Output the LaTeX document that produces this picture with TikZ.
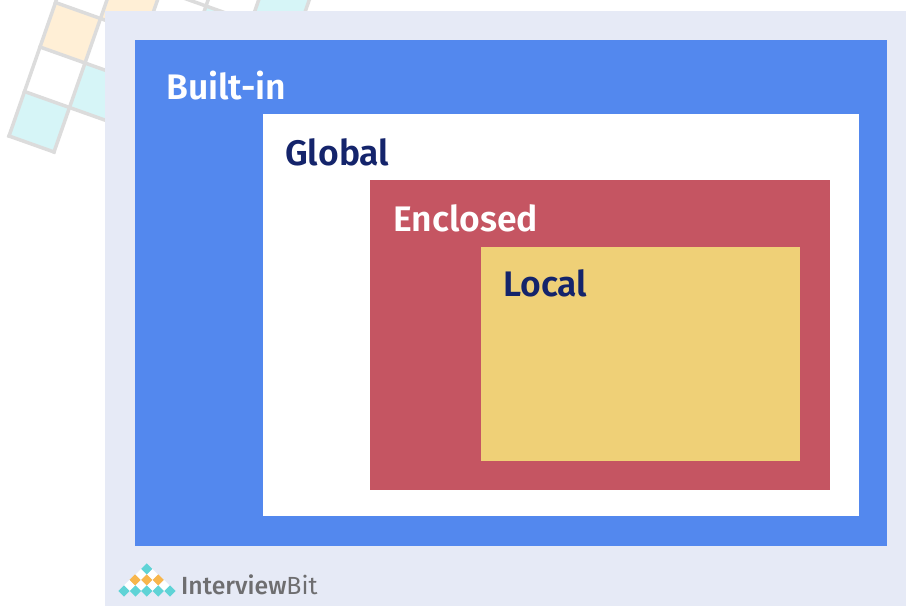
\documentclass[tikz,border=0pt]{standalone}
\usepackage{fontspec}
\setmainfont{Fira Sans}[BoldFont={Fira Sans SemiBold}]
\newfontfamily\logomed{Fira Sans Medium}
\definecolor{bgpale}{HTML}{E6EAF6}
\definecolor{blueb}{HTML}{5388EE}
\definecolor{redb}{HTML}{C55562}
\definecolor{yellowb}{HTML}{EFD077}
\definecolor{navyt}{HTML}{14246B}
\definecolor{gridg}{HTML}{DCDCDC}
\definecolor{pcream}{HTML}{FFEFD6}
\definecolor{pteal}{HTML}{D6F5F7}
\definecolor{lteal}{HTML}{5FD3D6}
\definecolor{lorange}{HTML}{F8B64C}
\definecolor{lgray}{HTML}{6E6E70}
\tikzset{
 x=1pt,y=-1pt,
 lab/.style={anchor=base west,inner sep=0pt,font=\fontsize{35.5}{37}\selectfont\bfseries},
 gridline/.style={draw=gridg,line width=3.5pt,line cap=rect},
}
\newcommand{\gp}[2]{({9+45*(#1)+15.5*(#2)},{136+16*(#1)-44.5*(#2)})}
\newcommand{\gcell}[3]{\fill[#3] \gp{#1}{#2} -- \gp{#1+1}{#2} -- \gp{#1+1}{#2+1} -- \gp{#1}{#2+1} -- cycle;}
\newcommand{\ld}[3]{\fill[#3] ({#1-5.6},#2) -- (#1,{#2-5.6}) -- ({#1+5.6},#2) -- (#1,{#2+5.6}) -- cycle;}
\begin{document}
\begin{tikzpicture}
\useasboundingbox (0,0) rectangle (906,606);
\begin{scope}
\clip (0,0) rectangle (906,606);
\gcell{0}{0}{pteal}
\gcell{0}{2}{pcream}
\gcell{1}{1}{pteal}
\gcell{1}{3}{pcream}
\gcell{3}{3}{pteal}
\gcell{4}{4}{pteal}
\draw[gridline] \gp{0}{0} -- \gp{1}{0};
\draw[gridline] \gp{0}{1} -- \gp{3}{1};
\draw[gridline] \gp{0}{2} -- \gp{3}{2};
\draw[gridline] \gp{0}{3} -- \gp{5}{3};
\draw[gridline] \gp{0}{4} -- \gp{6}{4};
\draw[gridline] \gp{0}{0} -- \gp{0}{5};
\draw[gridline] \gp{1}{0} -- \gp{1}{5};
\draw[gridline] \gp{2}{1} -- \gp{2}{5};
\draw[gridline] \gp{3}{2} -- \gp{3}{5};
\draw[gridline] \gp{4}{3} -- \gp{4}{5};
\draw[gridline] \gp{5}{3} -- \gp{5}{5};
\end{scope}
\fill[bgpale] (105,11) rectangle (906,606);
\fill[blueb] (135,40) rectangle (887,546);
\fill[white] (263,114) rectangle (859,516);
\fill[redb] (370,180) rectangle (830,490);
\fill[yellowb] (481,247) rectangle (800,461);
\node[lab,text=white] (builtin) at (166,99) {Built-in};
\node[lab,text=navyt] (global) at (285,165) {Global};
\node[lab,text=white] (enclosed) at (393,231) {Enclosed};
\node[lab,text=navyt] (local) at (503,296) {Local};
% logo
\ld{146.7}{569}{lteal}
\ld{141}{574.6}{white}\ld{152.5}{574.6}{white}
\ld{135}{580}{lorange}\ld{146.7}{580}{lorange}\ld{158.3}{580}{lorange}
\ld{129.3}{585.6}{white}\ld{141}{585.6}{white}\ld{152.5}{585.6}{white}\ld{164.2}{585.6}{white}
\ld{124}{591}{lteal}\ld{135.5}{591}{lteal}\ld{146.7}{591}{lteal}\ld{158.3}{591}{lteal}\ld{170}{591}{lteal}
\node[anchor=base west,inner sep=0pt,text=lgray,font=\fontsize{24.8}{26}\selectfont] (logo) at (181,594) {{\logomed Interview}Bit};
\end{tikzpicture}
\end{document}
